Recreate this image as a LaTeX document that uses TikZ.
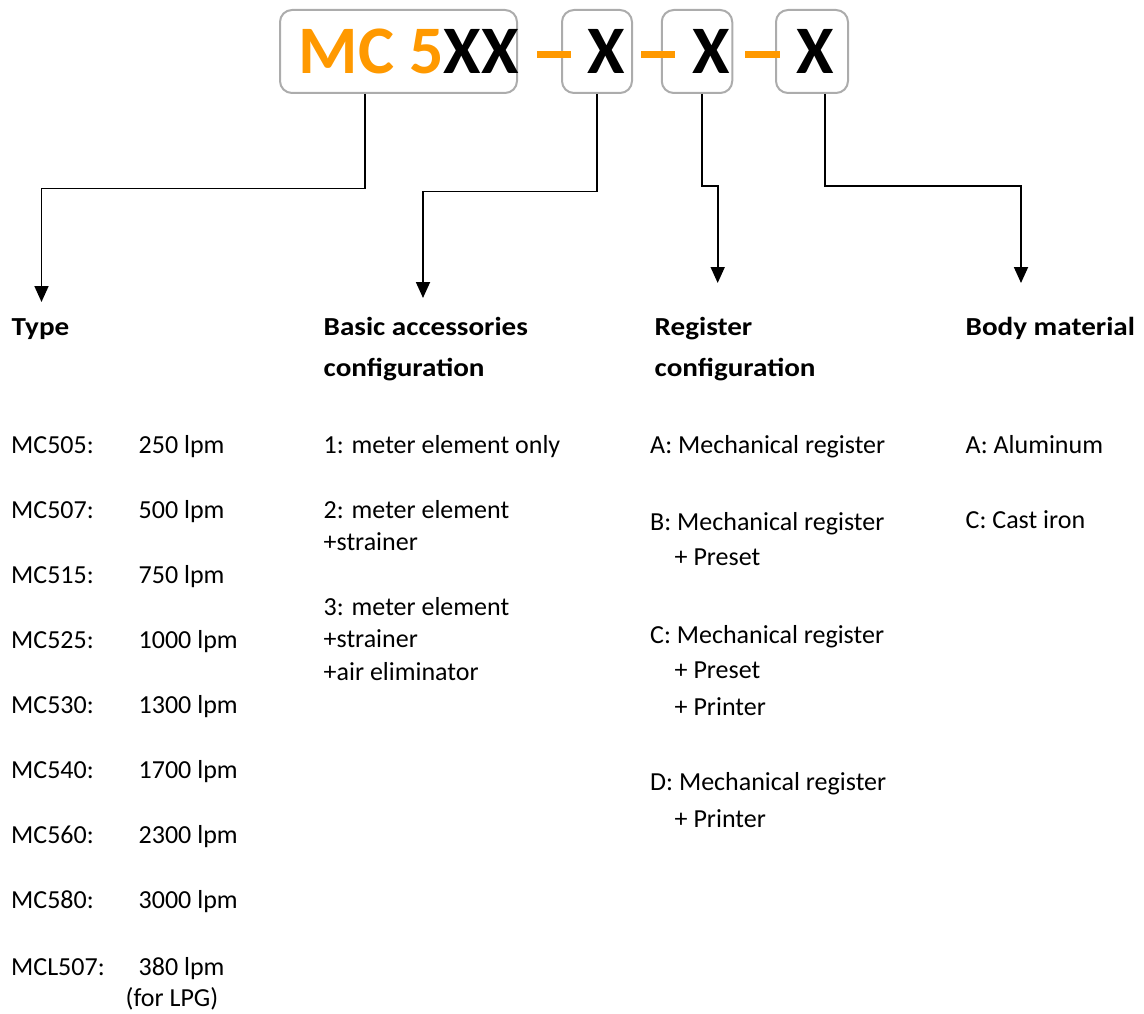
\documentclass[tikz,border=0pt]{standalone}
\usepackage{fontspec}
\setmainfont{Carlito}
\newfontfamily\headfont[FakeStretch=1.12]{Carlito}
\usetikzlibrary{arrows.meta}
\definecolor{mcorange}{RGB}{255,153,0}
\definecolor{boxgray}{RGB}{172,172,172}
\tikzset{
  codebox/.style={draw=boxgray, line width=2pt, rounded corners=12pt, minimum height=83pt, inner sep=0pt},
  dashbar/.style={fill=mcorange, minimum height=6.7pt, inner sep=0pt},
  code/.style={anchor=base, inner sep=0pt, font=\fontsize{68}{80}\selectfont\bfseries},
  txt/.style={anchor=base west, inner sep=0pt, font=\fontsize{26}{32}\selectfont},
  head/.style={txt, font=\fontsize{26}{32}\selectfont\headfont\bfseries},
  conn/.style={line width=1.8pt, -{Triangle[width=14pt,length=16pt]}}
}
\begin{document}
\begin{tikzpicture}[x=1pt,y=-1pt]
\useasboundingbox (0,0) rectangle (1144,1014);
% model code boxes
\node[codebox, minimum width=237pt] (box1) at (398.5,51.5) {};
\node[codebox, minimum width=70pt] (box2) at (597,51.5) {};
\node[codebox, minimum width=70.5pt] (box3) at (697,51.5) {};
\node[codebox, minimum width=72pt] (box4) at (812,51.5) {};
\node[code, anchor=base west] (mc) at (298.5,74) {\textcolor{mcorange}{MC 5}XX};
\node[dashbar, minimum width=34pt] (dash1) at (554,54.5) {};
\node[dashbar, minimum width=34.7pt] (dash2) at (658,54.5) {};
\node[dashbar, minimum width=35pt] (dash3) at (762.5,54.5) {};
\node[code] (x2) at (606.5,74) {X};
\node[code] (x3) at (711,74) {X};
\node[code] (x4) at (815,74) {X};
% arrow ends
\coordinate (type) at (41.5,302);
\coordinate (acc) at (423,298);
\coordinate (reg) at (717.7,283);
\coordinate (body) at (1021,283);
\draw[conn] ([xshift=-33.5pt]box1.south) -- ++(0,94.5) -| (type);
\draw[conn] (box2.south) -- ++(0,97.5) -| (acc);
\draw[conn] ([xshift=5pt]box3.south) -- ++(0,92) -| (reg);
\draw[conn] ([xshift=13pt]box4.south) -- ++(0,92) -| (body);
% headings
\node[head] (h1) at (11.5,335) {Type};
\node[head] (h2) at (323.5,335) {Basic accessories};
\node[head] (h2b) at (323.5,376) {configuration};
\node[head] (h3) at (654.5,335) {Register};
\node[head] (h3b) at (654.5,376) {configuration};
\node[head] (h4) at (965.5,335) {Body material};
% type list
\node[txt] (m1) at (11,453) {MC505:};
\node[txt] (v1) at (138.5,453) {250 lpm};
\node[txt] (m2) at (11,518) {MC507:};
\node[txt] (v2) at (138.5,518) {500 lpm};
\node[txt] (m3) at (11,583) {MC515:};
\node[txt] (v3) at (138.5,583) {750 lpm};
\node[txt] (m4) at (11,648) {MC525:};
\node[txt] (v4) at (138.5,648) {1000 lpm};
\node[txt] (m5) at (11,713) {MC530:};
\node[txt] (v5) at (138.5,713) {1300 lpm};
\node[txt] (m6) at (11,778) {MC540:};
\node[txt] (v6) at (138.5,778) {1700 lpm};
\node[txt] (m7) at (11,843) {MC560:};
\node[txt] (v7) at (138.5,843) {2300 lpm};
\node[txt] (m8) at (11,908) {MC580:};
\node[txt] (v8) at (138.5,908) {3000 lpm};
\node[txt] (m9) at (11,975) {MCL507:};
\node[txt] (v9) at (138.5,975) {380 lpm};
\node[txt] (v9b) at (125.5,1006) {(for LPG)};
% accessories
\node[txt] (a1) at (323.5,453) {1: meter element only};
\node[txt] (a2) at (323.5,518) {2: meter element};
\node[txt] (a2b) at (323.5,550) {+strainer};
\node[txt] (a3) at (323.5,615) {3: meter element};
\node[txt] (a3b) at (323.5,647) {+strainer};
\node[txt] (a3c) at (323.5,680) {+air eliminator};
% register
\node[txt] (r1) at (650,453) {A: Mechanical register};
\node[txt] (r2) at (650,530) {B: Mechanical register};
\node[txt] (r2b) at (674.5,565) {+ Preset};
\node[txt] (r3) at (650,643) {C: Mechanical register};
\node[txt] (r3b) at (674.5,678) {+ Preset};
\node[txt] (r3c) at (674.5,715) {+ Printer};
\node[txt] (r4) at (650,790) {D: Mechanical register};
\node[txt] (r4b) at (674.5,827) {+ Printer};
% body material
\node[txt] (b1) at (965.5,453) {A: Aluminum};
\node[txt] (b2) at (965.5,528) {C: Cast iron};
\end{tikzpicture}
\end{document}
